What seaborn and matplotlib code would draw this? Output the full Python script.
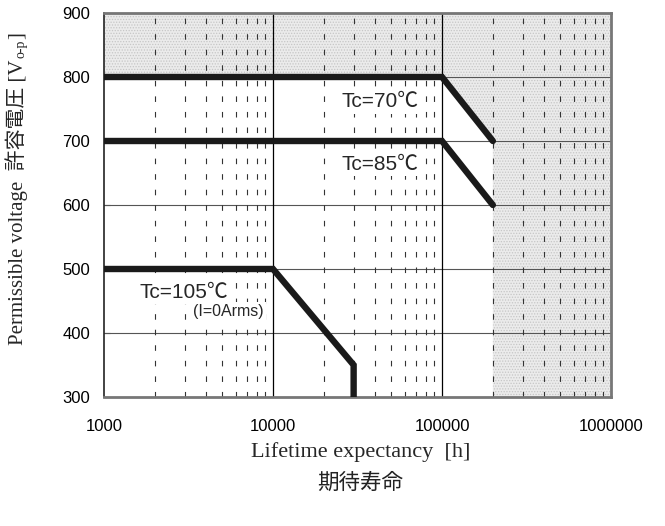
import numpy as np
import pandas as pd
import matplotlib
matplotlib.use("Agg")
import matplotlib.pyplot as plt
import seaborn as sns

# ---- data ----
tc70_x = [1000, 100000, 200000]
tc70_y = [800, 800, 700]
tc85_x = [1000, 100000, 200000]
tc85_y = [700, 700, 600]
tc105_x = [1000, 10000, 30000, 30000]
tc105_y = [500, 500, 350, 300]
series_labels = ["Tc=70℃", "Tc=85℃", "Tc=105℃"]
x_ticks = [1000, 10000, 100000, 1000000]
x_ticklabels = ["1000", "10000", "100000", "1000000"]
y_ticks = [300, 400, 500, 600, 700, 800, 900]

sns.set_theme(style="white")
plt.rcParams['font.family'] = ['Liberation Sans', 'Noto Sans CJK JP', 'DejaVu Sans']
plt.rcParams['hatch.linewidth'] = 0.6

rows = []
for name, xs, ys in zip(series_labels, [tc70_x, tc85_x, tc105_x], [tc70_y, tc85_y, tc105_y]):
    for i, (xv, yv) in enumerate(zip(xs, ys)):
        rows.append({"series": name, "x": xv, "y": yv, "order": i})
df = pd.DataFrame(rows)

W, H = 665, 526
fig = plt.figure(figsize=(W / 100, H / 100), dpi=100)
ax = fig.add_axes([104 / W, 1 - 397 / H, (611 - 104) / W, (397 - 13) / H])
ax.set_xscale("log")
ax.set_xlim(x_ticks[0], x_ticks[-1])
ax.set_ylim(y_ticks[0], y_ticks[-1])

# shaded (forbidden) region: above Tc=70 curve and beyond its end
poly_x = tc70_x + [tc70_x[-1], x_ticks[-1], x_ticks[-1], x_ticks[0]]
poly_y = tc70_y + [y_ticks[0], y_ticks[0], y_ticks[-1], y_ticks[-1]]
ax.fill(poly_x, poly_y, facecolor="#ebebeb", edgecolor="#c6c6c6", hatch="......",
        linewidth=0, zorder=0)

# grids
for yv in y_ticks[1:-1]:
    ax.axhline(yv, color="#555555", lw=0.8, zorder=1)
for xv in x_ticks[1:-1]:
    ax.axvline(xv, color="black", lw=0.9, zorder=1)
for dec in x_ticks[:-1]:
    for m in range(2, 10):
        ax.axvline(dec * m, color="#333333", lw=0.8, ls=(0, (5, 9)), zorder=1)

sns.lineplot(data=df, x="x", y="y", units="series", estimator=None, sort=False,
             color="#1a1a1a", linewidth=4.6, ax=ax, legend=False, zorder=3,
             solid_joinstyle="miter")

ax.set_xticks(x_ticks)
ax.set_xticklabels(x_ticklabels)
ax.set_yticks(y_ticks)
ax.xaxis.set_minor_locator(matplotlib.ticker.NullLocator())
ax.tick_params(axis="x", length=0, pad=16, labelsize=12, colors="black")
ax.tick_params(axis="y", direction="in", length=4, width=0.8, pad=10, labelsize=12,
               left=True, colors="#333333")
for lab in ax.get_xticklabels() + ax.get_yticklabels():
    lab.set_color("black")
ax.set_xlabel("")
ax.set_ylabel("")

ax.spines["left"].set_color("#222222")
ax.spines["left"].set_linewidth(1.2)
for side in ["top", "right", "bottom"]:
    ax.spines[side].set_color("#777777")
    ax.spines[side].set_linewidth(2.0)

sans = ["Liberation Sans", "Noto Sans CJK JP"]
box = dict(facecolor="white", edgecolor="none", pad=1.5)
ax.text(7.3e4, 761, series_labels[0], ha="right", va="center", fontsize=15, family=sans,
        bbox=box, zorder=2)
ax.text(7.3e4, 664, series_labels[1], ha="right", va="center", fontsize=15, family=sans,
        bbox=box, zorder=2)
ax.text(1630, 464, series_labels[2], ha="left", va="center", fontsize=15, family=sans,
        bbox=box, zorder=2)
ax.text(3360, 433, "(I=0Arms)", ha="left", va="center", fontsize=11.5, family=sans,
        bbox=box, zorder=2)

serif = ["Liberation Serif", "Noto Sans CJK JP"]
fig.text(0.5 * (248 + 473) / W, 1 - 452 / H, "Lifetime expectancy  [h]",
         ha="center", va="center", fontsize=16, family=serif)
fig.text(0.5 * (248 + 473) / W, 1 - 484 / H, "期待寿命",
         ha="center", va="center", fontsize=15.5, family=serif, color="#222222")

# y label built from pieces (subscript)
t1 = fig.text(17 / W, 1 - 345 / H, "Permissible voltage  許容電圧 [V", rotation=90,
              ha="center", va="bottom", fontsize=15, family=serif)
fig.canvas.draw()
bb = t1.get_window_extent()
t2 = fig.text(21 / W, (bb.y1 + 1) / H, "o-p", rotation=90, ha="center", va="bottom",
              fontsize=10, family=serif)
fig.canvas.draw()
bb2 = t2.get_window_extent()
fig.text(17 / W, (bb2.y1 + 1) / H, "]", rotation=90, ha="center", va="bottom",
         fontsize=15, family=serif)

fig.savefig("out.png", dpi=100)
